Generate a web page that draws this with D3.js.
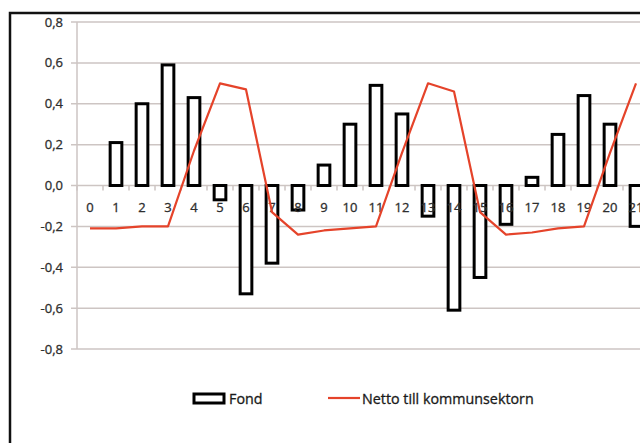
<!DOCTYPE html>
<html>
<head>
<meta charset="utf-8">
<script src="https://cdn.jsdelivr.net/npm/d3@7"></script>
<style>
  body { margin: 0; background: #fff; }
  text { font-family: "Open Sans", "DejaVu Sans", sans-serif; }
</style>
</head>
<body>
<svg id="chart" width="640" height="443"></svg>
<script>
var categories = d3.range(0, 22).map(String);
var fond = [0, 0.21, 0.40, 0.59, 0.43, -0.07, -0.53, -0.38, -0.12, 0.10, 0.30,
  0.49, 0.35, -0.15, -0.61, -0.45, -0.19, 0.04, 0.25, 0.44, 0.30, -0.20];
var netto = [-0.21, -0.21, -0.20, -0.20, 0.17, 0.50, 0.47, -0.13, -0.24, -0.22, -0.21,
  -0.20, 0.16, 0.50, 0.46, -0.13, -0.24, -0.23, -0.21, -0.20, 0.16, 0.50];
var yTicks = [-0.8, -0.6, -0.4, -0.2, 0, 0.2, 0.4, 0.6, 0.8];
var seriesNames = ["Fond", "Netto till kommunsektorn"];

var svg = d3.select("#chart");
var red = "#e5432a";
var grid = "#cdc5c3";

var locale = d3.formatLocale({ decimal: ",", thousands: " ", grouping: [3], currency: ["", " kr"], minus: "-" });
var fmt = locale.format(".1f");

// bar band and full category band share the same range
var x = d3.scaleBand()
  .domain(categories)
  .range([77, 77 + 22 * 26])
  .paddingInner(0.55)
  .paddingOuter(0.275);

var xc = d3.scaleBand().domain(categories).range([77, 77 + 22 * 26]);

var y = d3.scaleLinear()
  .domain([-0.8, 0.8])
  .range([349, 22]);

// outer frame (cut off at right and bottom)
svg.append("path")
  .attr("d", "M10,460 V13 H660")
  .attr("fill", "none")
  .attr("stroke", "#111")
  .attr("stroke-width", 2.5);

// gridlines
svg.append("g")
  .selectAll("line")
  .data(yTicks)
  .enter().append("line")
  .attr("x1", 71)
  .attr("x2", 660)
  .attr("y1", d => y(d))
  .attr("y2", d => y(d))
  .attr("stroke", grid)
  .attr("stroke-width", 1.5);

// y axis line
svg.append("line")
  .attr("x1", 77).attr("x2", 77)
  .attr("y1", y(0.8)).attr("y2", y(-0.8))
  .attr("stroke", grid)
  .attr("stroke-width", 1.5);

// y labels
svg.append("g")
  .selectAll("text")
  .data(yTicks)
  .enter().append("text")
  .attr("x", 63)
  .attr("y", d => y(d) + 4.5)
  .attr("text-anchor", "end")
  .attr("font-size", 13)
  .attr("fill", "#2e2e2e")
  .attr("stroke", "#2e2e2e")
  .attr("stroke-width", 0.3)
  .text(d => fmt(d));

// category tick marks on zero line
svg.append("g")
  .selectAll("line")
  .data(d3.range(0, 23))
  .enter().append("line")
  .attr("x1", i => 77 + i * xc.bandwidth())
  .attr("x2", i => 77 + i * xc.bandwidth())
  .attr("y1", y(0))
  .attr("y2", y(0) + 5)
  .attr("stroke", grid)
  .attr("stroke-width", 1.5);

// bars
svg.append("g")
  .selectAll("rect")
  .data(fond.map((v, i) => ({ c: categories[i], v: v })).filter(d => d.v !== 0))
  .enter().append("rect")
  .attr("x", d => x(d.c))
  .attr("y", d => y(Math.max(0, d.v)))
  .attr("width", x.bandwidth())
  .attr("height", d => Math.abs(y(d.v) - y(0)))
  .attr("fill", "#fff")
  .attr("stroke", "#000")
  .attr("stroke-width", 3);

// x labels
svg.append("g")
  .selectAll("text")
  .data(categories)
  .enter().append("text")
  .attr("x", d => xc(d) + xc.bandwidth() / 2)
  .attr("y", y(0) + 26)
  .attr("text-anchor", "middle")
  .attr("font-size", 13)
  .attr("fill", "#2e2e2e")
  .attr("stroke", "#2e2e2e")
  .attr("stroke-width", 0.3)
  .text(d => d);

// line
var line = d3.line()
  .x((d, i) => xc(categories[i]) + xc.bandwidth() / 2)
  .y(d => y(d));

svg.append("path")
  .datum(netto)
  .attr("d", line)
  .attr("fill", "none")
  .attr("stroke", red)
  .attr("stroke-width", 2.2)
  .attr("stroke-linejoin", "round");

// legend
var lg = svg.append("g");
lg.append("rect")
  .attr("x", 194).attr("y", 394)
  .attr("width", 30).attr("height", 9)
  .attr("fill", "#fff")
  .attr("stroke", "#000")
  .attr("stroke-width", 3);
lg.append("text")
  .attr("x", 229).attr("y", 404)
  .attr("font-size", 14.3)
  .attr("fill", "#1a1a1a")
  .attr("stroke", "#1a1a1a")
  .attr("stroke-width", 0.3)
  .text(seriesNames[0]);
lg.append("line")
  .attr("x1", 328).attr("x2", 360)
  .attr("y1", 398).attr("y2", 398)
  .attr("stroke", red)
  .attr("stroke-width", 2.2);
lg.append("text")
  .attr("x", 362).attr("y", 404)
  .attr("font-size", 14.3)
  .attr("fill", "#1a1a1a")
  .attr("stroke", "#1a1a1a")
  .attr("stroke-width", 0.3)
  .text(seriesNames[1]);
</script>
</body>
</html>
